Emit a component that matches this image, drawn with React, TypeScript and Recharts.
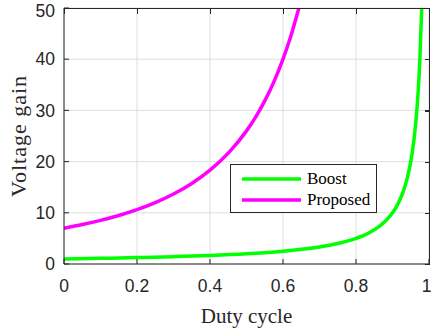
import { LineChart, Line, XAxis, YAxis, CartesianGrid, Legend } from "recharts";

// duty cycle samples and gains for the conventional boost converter
const dutyBoost = [
  0, 0.1, 0.2, 0.3, 0.4, 0.5, 0.55, 0.6, 0.65, 0.7, 0.75, 0.8, 0.82, 0.84, 0.86,
  0.88, 0.9, 0.91, 0.92, 0.93, 0.94, 0.95, 0.955, 0.96, 0.965, 0.97, 0.975, 0.98,
];
const gainBoost = [
  1, 1.11, 1.25, 1.43, 1.67, 2, 2.22, 2.5, 2.86, 3.33, 4, 5, 5.56, 6.25, 7.14,
  8.33, 10, 11.11, 12.5, 14.29, 16.67, 20, 22.22, 25, 28.57, 33.33, 40, 50,
];

// duty cycle samples and gains for the proposed converter
const dutyProposed = [
  0, 0.05, 0.1, 0.15, 0.2, 0.25, 0.3, 0.35, 0.4, 0.45, 0.5, 0.525, 0.55, 0.575,
  0.6, 0.62, 0.6435,
];
const gainProposed = [
  7, 7.7, 8.52, 9.48, 10.63, 12, 13.67, 15.74, 18.33, 21.65, 26, 28.7, 31.85,
  35.57, 40, 44.18, 50,
];

const seriesNames = ["Boost", "Proposed"];
const seriesColors = ["#00ff00", "#ff00ff"];

const xTicks = [0, 0.2, 0.4, 0.6, 0.8, 1];
const yTicks = [0, 10, 20, 30, 40, 50];
const xMax = xTicks[xTicks.length - 1];
const yMax = yTicks[yTicks.length - 1];

const boostData = dutyBoost.map((d, i) => ({ d, gain: gainBoost[i] }));
const proposedData = dutyProposed.map((d, i) => ({ d, gain: gainProposed[i] }));

const W = 431;
const H = 333;
const margin = { top: 8, right: 2, bottom: 0, left: 0 };
const yAxisWidth = 64;
const xAxisHeight = 69;
// plot box, used by the frame overlay
const plotLeft = margin.left + yAxisWidth;
const plotTop = margin.top;
const plotW = W - plotLeft - margin.right;
const plotH = H - plotTop - margin.bottom - xAxisHeight;

const axisColor = "#262626";
const tickFont = { fontFamily: "'Liberation Sans', Arial, sans-serif", fontSize: 17.5, fill: axisColor };
const serif = "'Liberation Serif', 'Times New Roman', serif";

const LegendBox = ({ payload }: any) => (
  <div
    style={{
      position: "relative",
      width: 147,
      height: 49,
      boxSizing: "border-box",
      border: `1px solid ${axisColor}`,
      background: "#fff",
      fontFamily: serif,
      fontSize: 17,
      color: "#000",
    }}
  >
    {(payload || []).map((p: any, i: number) => (
      <div key={p.value} style={{ position: "absolute", left: 11, top: 3 + i * 21, height: 21, display: "flex", alignItems: "center" }}>
        <svg width={59} height={6} style={{ display: "block" }}>
          <line x1={0} y1={3} x2={59} y2={3} stroke={p.color} strokeWidth={3.5} />
        </svg>
        <span style={{ marginLeft: 6, lineHeight: "21px" }}>{p.value}</span>
      </div>
    ))}
  </div>
);

const YLabel = ({ viewBox }: any) => (
  <text
    x={18}
    y={viewBox.y + viewBox.height / 2}
    transform={`rotate(-90, 18, ${viewBox.y + viewBox.height / 2})`}
    textAnchor="middle"
    dominantBaseline="central"
    fontFamily={serif}
    fontSize={22}
    letterSpacing={1}
    fill={axisColor}
  >
    Voltage gain
  </text>
);

// top and right edges of the axes box, ticks pointing inward
const BoxEdges = () => {
  const top = plotTop + 0.5;
  const right = plotLeft + plotW + 0.5;
  return (
    <>
      <div
        style={{
          position: "absolute",
          left: plotLeft,
          top: plotTop,
          width: plotW,
          height: plotH,
          borderTop: `1px solid ${axisColor}`,
          borderRight: `1px solid ${axisColor}`,
          pointerEvents: "none",
          zIndex: 5,
        }}
      />
      <svg width={W} height={H} style={{ position: "absolute", left: 0, top: 0, pointerEvents: "none", zIndex: 5 }}>
        <g stroke={axisColor} strokeWidth={1.2} shapeRendering="crispEdges">
          {xTicks.map((t) => {
            const x = plotLeft + (t / xMax) * plotW + 0.5;
            return <line key={`x${t}`} x1={x} y1={top} x2={x} y2={top + 5} />;
          })}
          {yTicks.map((t) => {
            const y = plotTop + plotH - (t / yMax) * plotH + 0.5;
            return <line key={`y${t}`} x1={right} y1={y} x2={right - 5} y2={y} />;
          })}
        </g>
      </svg>
    </>
  );
};

export default function App() {
  return (
    <>
      <style>{`body{margin:0}`}</style>
      <div style={{ position: "relative", width: W, height: H }}>
        <LineChart width={W} height={H} margin={margin}>
          <CartesianGrid stroke="#dedede" strokeWidth={1} />
          <XAxis
            dataKey="d"
            type="number"
            domain={[0, xMax]}
            ticks={xTicks}
            allowDataOverflow
            height={xAxisHeight}
            stroke={axisColor}
            tickSize={-5}
            tickMargin={21}
            tick={tickFont}
            label={{ value: "Duty cycle", position: "insideBottom", offset: 10, style: { fontFamily: serif, fontSize: 21, fill: axisColor } }}
          />
          <YAxis
            type="number"
            domain={[0, yMax]}
            ticks={yTicks}
            allowDataOverflow
            width={yAxisWidth}
            stroke={axisColor}
            tickSize={-5}
            tickMargin={14}
            tick={tickFont}
            label={<YLabel />}
          />
          <Legend
            layout="vertical"
            align="center"
            verticalAlign="middle"
            wrapperStyle={{ left: 230, top: 164, width: 147 }}
            content={<LegendBox />}
          />
          <Line
            data={boostData}
            dataKey="gain"
            name={seriesNames[0]}
            stroke={seriesColors[0]}
            strokeWidth={3.5}
            dot={false}
            type="monotone"
            isAnimationActive={false}
          />
          <Line
            data={proposedData}
            dataKey="gain"
            name={seriesNames[1]}
            stroke={seriesColors[1]}
            strokeWidth={3.5}
            dot={false}
            type="monotone"
            isAnimationActive={false}
          />
        </LineChart>
        <BoxEdges />
      </div>
    </>
  );
}
